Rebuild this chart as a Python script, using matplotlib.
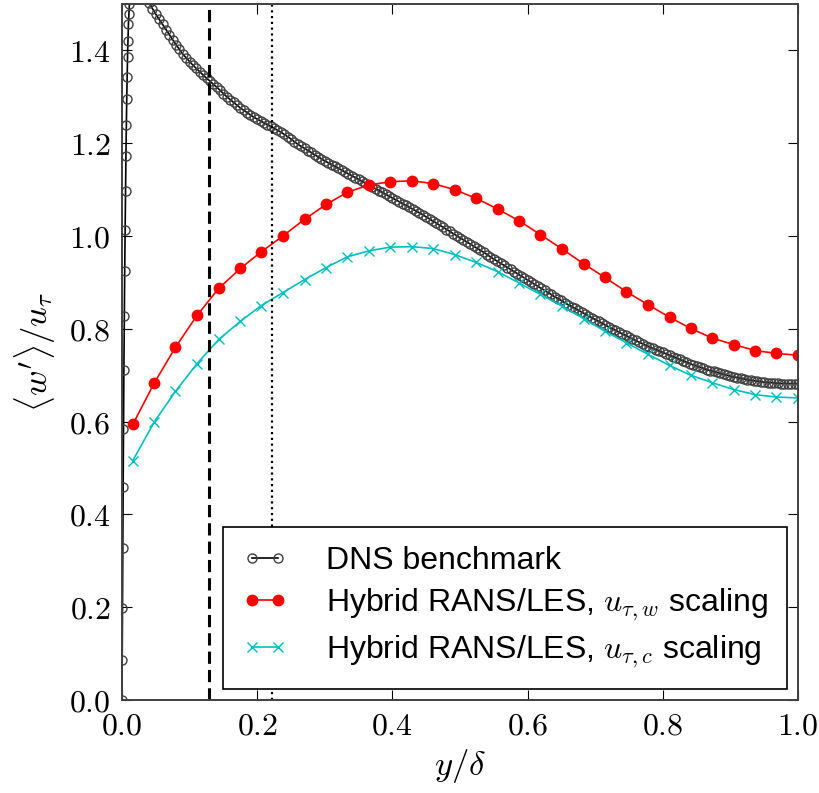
import matplotlib
matplotlib.use("Agg")
import matplotlib.pyplot as plt
from matplotlib.ticker import FuncFormatter

plt.rcParams['mathtext.fontset'] = 'cm'
plt.rcParams['font.family'] = ['Liberation Sans', 'DejaVu Sans']

# ---------------- data ----------------
# DNS benchmark: near-wall part
dns_x_wall = [0.0, 0.0003, 0.0007, 0.0012, 0.0017, 0.0022, 0.0028, 0.0034, 0.0040,
              0.0046, 0.0052, 0.0058, 0.0064, 0.0070, 0.0076, 0.0082, 0.0088,
              0.0095, 0.0102, 0.0110, 0.013, 0.016, 0.019, 0.022, 0.025, 0.028,
              0.031, 0.034, 0.037]
dns_y_wall = [0.0, 0.086, 0.199, 0.328, 0.458, 0.583, 0.712, 0.827, 0.924,
              1.014, 1.096, 1.172, 1.239, 1.295, 1.343, 1.386, 1.420,
              1.457, 1.479, 1.500, 1.54, 1.57, 1.59, 1.59, 1.58, 1.56,
              1.54, 1.53, 1.515]
# DNS benchmark: outer part
dns_x_outer = [
    0.040, 0.045, 0.050, 0.055, 0.060, 0.065, 0.070, 0.075, 0.080, 0.085,
    0.090, 0.095, 0.100, 0.105, 0.110, 0.115, 0.120, 0.125, 0.130, 0.135,
    0.140, 0.145, 0.150, 0.155, 0.160, 0.165, 0.170, 0.175, 0.180, 0.185,
    0.190, 0.195, 0.200, 0.205, 0.210, 0.215, 0.220, 0.225, 0.230, 0.235,
    0.240, 0.245, 0.250, 0.255, 0.260, 0.265, 0.270, 0.275, 0.280, 0.285,
    0.290, 0.295, 0.300, 0.305, 0.310, 0.315, 0.320, 0.325, 0.330, 0.335,
    0.340, 0.345, 0.350, 0.355, 0.360, 0.365, 0.370, 0.375, 0.380, 0.385,
    0.390, 0.395, 0.400, 0.405, 0.410, 0.415, 0.420, 0.425, 0.430, 0.435,
    0.440, 0.445, 0.450, 0.455, 0.460, 0.465, 0.470, 0.475, 0.480, 0.485,
    0.490, 0.495, 0.500, 0.505, 0.510, 0.515, 0.520, 0.525, 0.530, 0.535,
    0.540, 0.545, 0.550, 0.555, 0.560, 0.565, 0.570, 0.575, 0.580, 0.585,
    0.590, 0.595, 0.600, 0.605, 0.610, 0.615, 0.620, 0.625, 0.630, 0.635,
    0.640, 0.645, 0.650, 0.655, 0.660, 0.665, 0.670, 0.675, 0.680, 0.685,
    0.690, 0.695, 0.700, 0.705, 0.710, 0.715, 0.720, 0.725, 0.730, 0.735,
    0.740, 0.745, 0.750, 0.755, 0.760, 0.765, 0.770, 0.775, 0.780, 0.785,
    0.790, 0.795, 0.800, 0.805, 0.810, 0.815, 0.820, 0.825, 0.830, 0.835,
    0.840, 0.845, 0.850, 0.855, 0.860, 0.865, 0.870, 0.875, 0.880, 0.885,
    0.890, 0.895, 0.900, 0.905, 0.910, 0.915, 0.920, 0.925, 0.930, 0.935,
    0.940, 0.945, 0.950, 0.955, 0.960, 0.965, 0.970, 0.975, 0.980, 0.985,
    0.990, 0.995, 1.000]
dns_y_outer = [
    1.503, 1.490, 1.478, 1.467, 1.456, 1.445, 1.434, 1.423, 1.412, 1.402,
    1.392, 1.384, 1.376, 1.368, 1.361, 1.354, 1.347, 1.340, 1.334, 1.327,
    1.321, 1.314, 1.307, 1.300, 1.294, 1.288, 1.282, 1.276, 1.271, 1.266,
    1.261, 1.256, 1.252, 1.248, 1.244, 1.240, 1.236, 1.232, 1.228, 1.224,
    1.219, 1.214, 1.209, 1.203, 1.198, 1.193, 1.189, 1.184, 1.180, 1.175,
    1.171, 1.166, 1.162, 1.158, 1.154, 1.150, 1.146, 1.142, 1.138, 1.134,
    1.130, 1.126, 1.122, 1.118, 1.114, 1.110, 1.106, 1.102, 1.098, 1.094,
    1.090, 1.086, 1.082, 1.078, 1.074, 1.070, 1.066, 1.062, 1.058, 1.054,
    1.050, 1.046, 1.041, 1.037, 1.032, 1.028, 1.023, 1.019, 1.014, 1.010,
    1.005, 1.001, 0.996, 0.992, 0.987, 0.983, 0.978, 0.974, 0.969, 0.965,
    0.960, 0.955, 0.950, 0.946, 0.941, 0.937, 0.932, 0.928, 0.923, 0.919,
    0.914, 0.910, 0.905, 0.901, 0.896, 0.892, 0.887, 0.883, 0.878, 0.874,
    0.869, 0.865, 0.861, 0.856, 0.852, 0.848, 0.844, 0.840, 0.836, 0.832,
    0.828, 0.824, 0.820, 0.816, 0.812, 0.808, 0.804, 0.800, 0.797, 0.793,
    0.789, 0.786, 0.782, 0.778, 0.775, 0.771, 0.768, 0.764, 0.761, 0.758,
    0.755, 0.752, 0.749, 0.746, 0.743, 0.740, 0.737, 0.734, 0.731, 0.728,
    0.725, 0.722, 0.720, 0.717, 0.715, 0.712, 0.710, 0.708, 0.706, 0.704,
    0.702, 0.700, 0.698, 0.696, 0.695, 0.693, 0.692, 0.690, 0.689, 0.688,
    0.687, 0.686, 0.685, 0.684, 0.684, 0.683, 0.683, 0.682, 0.682, 0.682,
    0.682, 0.682, 0.682]

# Hybrid RANS/LES points
les_x = [0.016, 0.048, 0.079, 0.111, 0.143, 0.175, 0.206, 0.238, 0.270, 0.302,
         0.333, 0.365, 0.397, 0.429, 0.460, 0.492, 0.524, 0.556, 0.587, 0.619,
         0.651, 0.683, 0.714, 0.746, 0.778, 0.810, 0.841, 0.873, 0.905, 0.937,
         0.968, 1.000]
les_w = [0.594, 0.684, 0.760, 0.829, 0.887, 0.930, 0.966, 1.000, 1.036, 1.068,
         1.094, 1.110, 1.117, 1.119, 1.113, 1.100, 1.081, 1.058, 1.033, 1.003,
         0.972, 0.940, 0.911, 0.880, 0.852, 0.825, 0.801, 0.780, 0.766, 0.753,
         0.747, 0.743]
les_c = [0.516, 0.600, 0.665, 0.725, 0.777, 0.816, 0.850, 0.878, 0.906, 0.932,
         0.955, 0.968, 0.976, 0.977, 0.973, 0.960, 0.943, 0.923, 0.899, 0.874,
         0.849, 0.822, 0.795, 0.770, 0.745, 0.721, 0.700, 0.684, 0.669, 0.658,
         0.653, 0.651]

vline_dashed = 0.128
vline_dotted = 0.222

x_ticks = [0.0, 0.2, 0.4, 0.6, 0.8, 1.0]
y_ticks = [0.0, 0.2, 0.4, 0.6, 0.8, 1.0, 1.2, 1.4]

labels = ['DNS benchmark',
          r'Hybrid RANS/LES, $u_{\tau,w}$ scaling',
          r'Hybrid RANS/LES, $u_{\tau,c}$ scaling']

# ---------------- figure ----------------
fig = plt.figure(figsize=(8.19, 7.93), dpi=100)
ax = fig.add_axes([122/819, 93/793, 676/819, 696/793])

dns_x = dns_x_wall + dns_x_outer
dns_y = dns_y_wall + dns_y_outer
ax.plot(dns_x, dns_y, '-', color='k', lw=1.2, marker='o', ms=6.5, mfc='none',
        mec='0.25', mew=1.0, label=labels[0])
ax.plot(les_x, les_w, '-', color='r', lw=1.2, marker='o', ms=7.5, mec='r',
        label=labels[1])
ax.plot(les_x, les_c, '-', color='c', lw=1.2, marker='x', ms=7, mew=1.0,
        label=labels[2])

ax.axvline(vline_dashed, color='k', lw=2.2, ls=(0, (4, 2)))
ax.axvline(vline_dotted, color='k', lw=1.6, ls=(0, (1, 1.6)))

ax.set_xlim(0, 1.0)
ax.set_ylim(0, 1.5)
ax.set_xticks(x_ticks)
ax.set_yticks(y_ticks)
fmt = FuncFormatter(lambda v, p: r'$%.1f$' % v)
ax.xaxis.set_major_formatter(fmt)
ax.yaxis.set_major_formatter(fmt)
ax.tick_params(direction='in', top=True, right=True, length=7, width=0.8,
               labelsize=23, pad=8)
for s in ax.spines.values():
    s.set_linewidth(1.4)
    s.set_color('0.25')

ax.set_xlabel(r'$y/\delta$', fontsize=25, labelpad=4)
ax.set_ylabel(r'$\langle w^{\prime}\rangle/u_\tau$', fontsize=25, labelpad=8)

leg = ax.legend(loc='lower right', numpoints=2, fontsize=23, fancybox=False,
                edgecolor='k', framealpha=1, handlelength=1.4,
                handletextpad=1.2, borderpad=0.6, labelspacing=0.33,
                borderaxespad=0.35)
leg.get_frame().set_linewidth(1.2)

fig.savefig('out.png', dpi=100)
